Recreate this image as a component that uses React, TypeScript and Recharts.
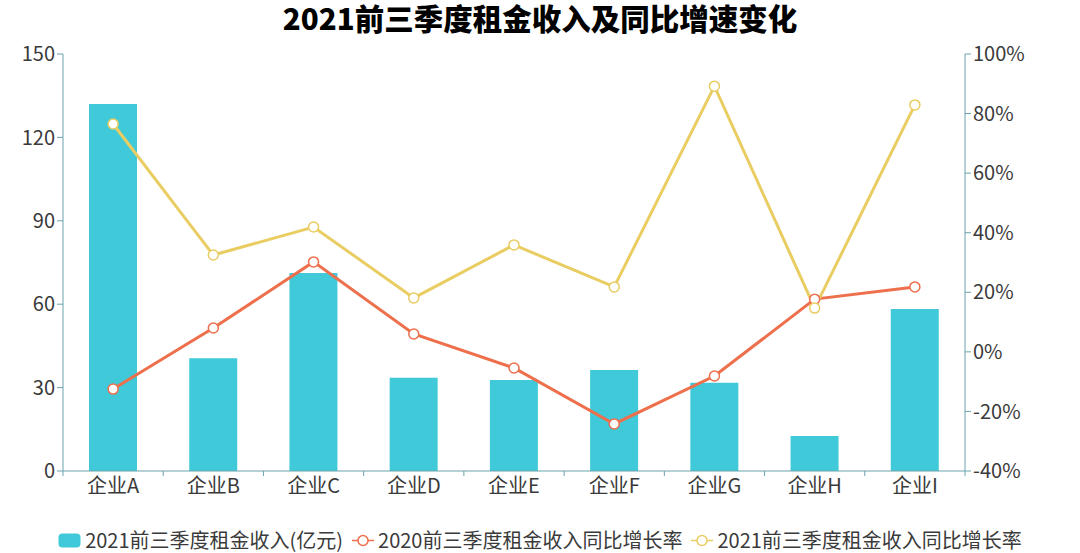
import React from 'react';
import { ComposedChart, Bar, Line, XAxis, YAxis, Legend } from 'recharts';

const categories = ['企业A', '企业B', '企业C', '企业D', '企业E', '企业F', '企业G', '企业H', '企业I'];
const revenue2021 = [132, 40.6, 71.2, 33.5, 32.7, 36.3, 31.7, 12.6, 58.3];
const growth2020 = [-12.5, 8, 30.2, 6, -5.4, -24.2, -8.1, 17.7, 21.8];
const growth2021 = [76.5, 32.5, 41.9, 18.1, 35.9, 21.8, 89.2, 14.7, 82.9];
const leftTicks = [0, 30, 60, 90, 120, 150];
const rightTicks = [-40, -20, 0, 20, 40, 60, 80, 100];
const seriesOrder = ['rev', 'g2020', 'g2021'];
const title = '2021前三季度租金收入及同比增速变化';

const data = categories.map((name, i) => ({
  name,
  rev: revenue2021[i],
  g2020: growth2020[i],
  g2021: growth2021[i],
}));

const FONT = '"Noto Sans CJK SC", "Noto Sans", sans-serif';
const BAR = '#40c9d8';
const ORANGE = '#ee6f4b';
const YELLOW = '#e9cd62';
const AXIS = '#6ba3ad';
const TEXT = '#3a3a3a';

const XTick = (props: any) => {
  const { x, y, payload, index, visibleTicksCount } = props;
  const half = 902 / 9 / 2;
  const ay = y - 8;
  return (
    <g>
      <line x1={x - half} x2={x - half} y1={ay} y2={ay + 5} stroke={AXIS} strokeWidth={1} />
      {index === (visibleTicksCount ?? 9) - 1 ? (
        <line x1={x + half} x2={x + half} y1={ay} y2={ay + 5} stroke={AXIS} strokeWidth={1} />
      ) : null}
      <text x={x} y={y} dy="0.71em" textAnchor="middle" fill={TEXT} fontSize={20} fontFamily={FONT}>
        {payload.value}
      </text>
    </g>
  );
};

const LegendContent = (props: any) => {
  const items = [...(props.payload || [])].sort(
    (a: any, b: any) => seriesOrder.indexOf(a.dataKey) - seriesOrder.indexOf(b.dataKey)
  );
  return (
    <div style={{ display: 'flex', justifyContent: 'center', alignItems: 'center', gap: 9, height: 24, fontFamily: FONT, fontSize: 20, lineHeight: '24px', color: TEXT, whiteSpace: 'nowrap' }}>
      {items.map((p: any) => (
        <div key={p.value} style={{ display: 'flex', alignItems: 'center', gap: 4 }}>
          {p.dataKey === 'rev' ? (
            <svg width={23} height={15}>
              <rect x={0.5} y={0.5} width={22} height={14} rx={4} fill={p.color} />
            </svg>
          ) : (
            <svg width={22} height={15}>
              <line x1={0} x2={22} y1={7.5} y2={7.5} stroke={p.color} strokeWidth={1.5} />
              <circle cx={11} cy={7.5} r={5} fill="#fff" stroke={p.color} strokeWidth={1.5} />
            </svg>
          )}
          <span>{p.value}</span>
        </div>
      ))}
    </div>
  );
};

export default function App() {
  return (
    <div style={{ position: 'absolute', left: 0, top: 0, width: 1080, height: 553, background: '#fff' }}>
      <svg width={1080} height={44} style={{ position: 'absolute', left: 0, top: 0 }}>
        <text x={540} y={30} textAnchor="middle" fontFamily={FONT} fontWeight={900} fontSize={29.5} fill="#000">
          {title}
        </text>
      </svg>
      <ComposedChart
        width={1080}
        height={553}
        data={data}
        margin={{ top: 54, right: 45, left: 3, bottom: 28 }}
        barCategoryGap="0%"
      >
        <XAxis
          dataKey="name"
          xAxisId="x"
          axisLine={{ stroke: AXIS }}
          tickLine={false}
          tick={<XTick />}
          interval={0}
          height={30}
        />
        <YAxis
          yAxisId="left"
          domain={[0, 150]}
          ticks={leftTicks}
          width={60}
          axisLine={{ stroke: AXIS }}
          tickLine={{ stroke: AXIS }}
          tick={{ fill: TEXT, fontSize: 20, fontFamily: FONT }}
          interval={0}
        />
        <YAxis
          yAxisId="right"
          orientation="right"
          domain={[-40, 100]}
          ticks={rightTicks}
          tickFormatter={(v: number) => `${v}%`}
          width={70}
          axisLine={{ stroke: AXIS }}
          tickLine={{ stroke: AXIS }}
          tick={{ fill: TEXT, fontSize: 20, fontFamily: FONT, textAnchor: 'start' }}
          interval={0}
        />
        <Legend
          verticalAlign="bottom"
          height={24}
          content={<LegendContent />}
          wrapperStyle={{ top: 528, bottom: 'auto', left: 0, width: 1080, height: 24 }}
        />
        <Bar xAxisId="x" yAxisId="left" dataKey="rev" name="2021前三季度租金收入(亿元)" fill={BAR} barSize={48} isAnimationActive={false} />
        <Line
          xAxisId="x"
          yAxisId="right"
          dataKey="g2020"
          name="2020前三季度租金收入同比增长率"
          stroke={ORANGE}
          strokeWidth={3}
          dot={{ r: 5, fill: '#fff', stroke: ORANGE, strokeWidth: 1.5 }}
          isAnimationActive={false}
        />
        <Line
          xAxisId="x"
          yAxisId="right"
          dataKey="g2021"
          name="2021前三季度租金收入同比增长率"
          stroke={YELLOW}
          strokeWidth={3}
          dot={{ r: 5, fill: '#fff', stroke: YELLOW, strokeWidth: 1.5 }}
          isAnimationActive={false}
        />
      </ComposedChart>
    </div>
  );
}
